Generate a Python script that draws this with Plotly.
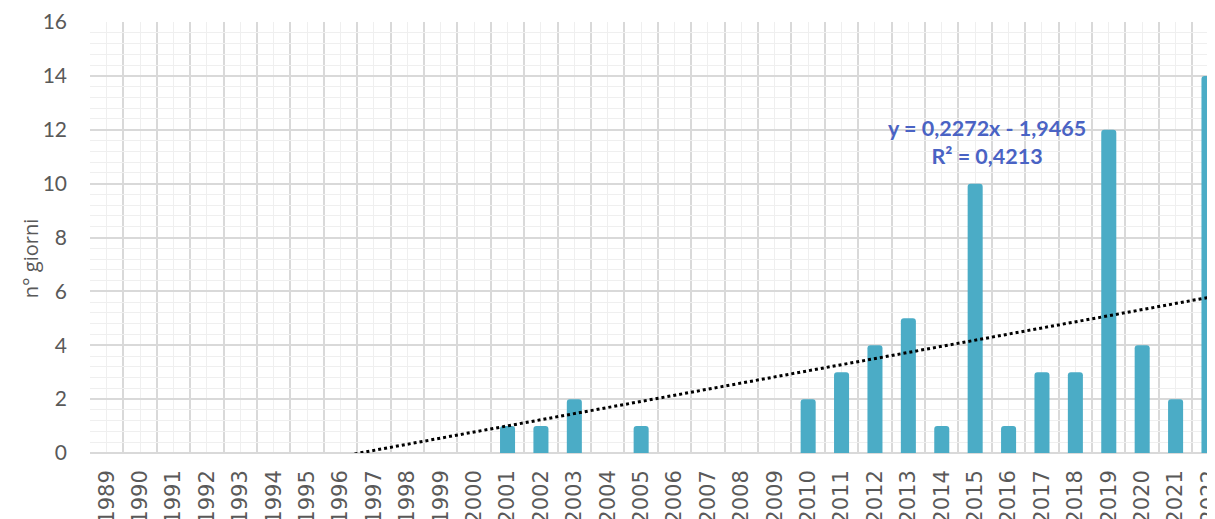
import numpy as np
import plotly.graph_objects as go

years = [str(y) for y in range(1989, 2023)]
giorni = [0, 0, 0, 0, 0, 0, 0, 0, 0, 0, 0, 0,
          1, 1, 2, 0, 1, 0, 0, 0, 0,
          2, 3, 4, 5, 1, 10, 1, 3, 3, 12, 4, 2, 14]
y_ticks = [0, 2, 4, 6, 8, 10, 12, 14, 16]

idx = np.arange(1, len(years) + 1)
slope, intercept = np.polyfit(idx, giorni, 1)
trend = slope * idx + intercept

FONT = "Lato"
fig = go.Figure()
fig.add_trace(go.Bar(x=idx, y=giorni, width=0.45, marker=dict(color="#4BACC6", line=dict(width=0)),
                     showlegend=False))
fig.add_trace(go.Scatter(x=idx, y=trend, mode="lines",
                         line=dict(color="black", width=3, dash="dot"), showlegend=False))

fig.add_annotation(x=27.36, y=11.55, xref="x", yref="y", xanchor="center",
                   text="<b>y = 0,2272x - 1,9465<br>R² = 0,4213</b>", showarrow=False,
                   font=dict(family=FONT, size=21.5, color="#4A63C4"), align="center")

# y-axis title placed as an annotation so it sits where the reference has it
fig.add_annotation(x=-60 / 1125, y=0.452, xref="paper", yref="paper", xanchor="center",
                   yanchor="middle", textangle=-90, text="n° giorni", showarrow=False,
                   font=dict(family="Open Sans", size=20, color="#595959"))

# page body has an 8px margin; figure is sized/offset so the plot lands where the reference has it
fig.update_layout(
    width=1207, height=511,
    margin=dict(l=82, r=0, t=14, b=66),
    paper_bgcolor="white", plot_bgcolor="white",
    barcornerradius=3,
    font=dict(family=FONT, color="#595959"),
    xaxis=dict(range=[0.5, 34.18], tickmode="array", tickvals=list(idx), ticktext=years,
               tickangle=-90, tickfont=dict(family="DejaVu Sans", size=21, color="#595959"),
               showgrid=True, gridcolor="#EFEFEF", gridwidth=1,
               minor=dict(tickmode="linear", tick0=0.5, dtick=1, showgrid=True,
                          gridcolor="#D9D9D9", gridwidth=1.5),
               showline=False, zeroline=False, ticks="", ticklabelstandoff=12,
               ticklabeloverflow="allow", automargin=False),
    yaxis=dict(range=[0, 16], tickmode="array", tickvals=y_ticks,
               tickfont=dict(size=21, color="#595959"),
               showgrid=True, gridcolor="#D9D9D9", gridwidth=1.5,
               minor=dict(dtick=0.4, showgrid=True, gridcolor="#EFEFEF", gridwidth=1),
               zeroline=True, zerolinecolor="#D9D9D9", zerolinewidth=2,
               ticks="", ticklabelstandoff=22, automargin=False),
)
fig.write_html("out.html")
